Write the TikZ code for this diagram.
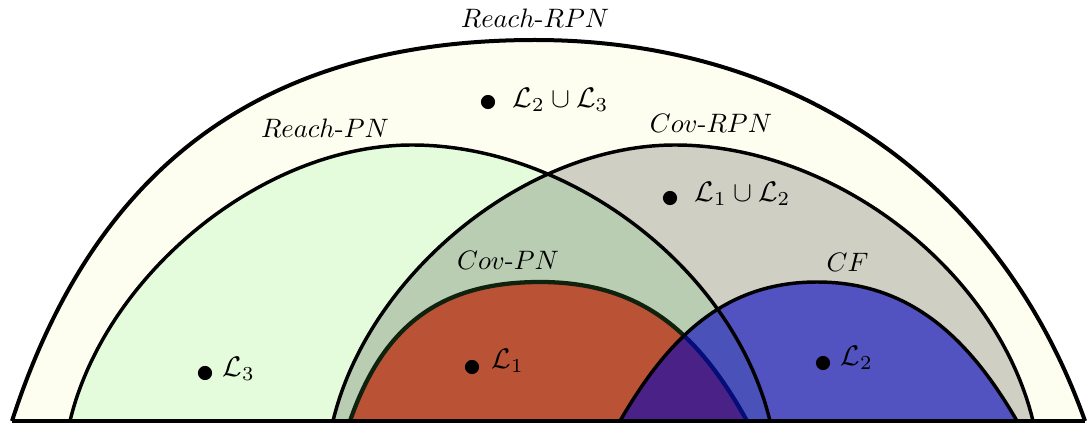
\documentclass[tikz,border=0pt]{standalone}
\definecolor{outerfill}{RGB}{254,254,240}
\definecolor{reachfill}{RGB}{228,252,220}
\definecolor{covpnfill}{RGB}{186,83,53}
\definecolor{covpnline}{RGB}{14,34,14}
\definecolor{cfblue}{RGB}{0,0,191}
\begin{document}
\begin{tikzpicture}[x=0.375pt,y=0.375pt,
  lbl/.style={inner sep=0pt, anchor=base},
  langlbl/.style={inner sep=0pt, anchor=base west, scale=1.06},
  dotnode/.style={circle, fill=black, inner sep=0pt, minimum size=5.3pt},
  setline/.style={line width=1.3pt, line join=round}]
\useasboundingbox (0,-1) rectangle (1087,421);
% fills
\fill[outerfill] (12,0) .. controls (92,247) and (255,381) .. (535,381) .. controls (795,381) and (1000,240) .. (1085,0) -- cycle;
\fill[reachfill] (70,0) .. controls (105,146) and (262,276) .. (412,276) .. controls (569,276) and (733,153) .. (770,0) -- cycle;
\fill[black, fill opacity=0.185] (333,0) .. controls (368,146) and (525,276) .. (675,276) .. controls (832,276) and (996,153) .. (1033,0) -- cycle;
\fill[covpnfill] (350,0) .. controls (383,95) and (440,139) .. (540,139) .. controls (640,139) and (697,90) .. (747,0) -- cycle;
\draw[covpnline, line width=1.6pt] (350,0) .. controls (383,95) and (440,139) .. (540,139) .. controls (640,139) and (697,90) .. (747,0);
\fill[cfblue, fill opacity=0.6] (620,0) .. controls (670,86.6) and (727,139) .. (817,139) .. controls (907,139) and (967,86.6) .. (1017,0) -- cycle;
% outlines
\draw[setline, line width=1.5pt] (12,0) .. controls (92,247) and (255,381) .. (535,381) .. controls (795,381) and (1000,240) .. (1085,0);
\draw[setline] (70,0) .. controls (105,146) and (262,276) .. (412,276) .. controls (569,276) and (733,153) .. (770,0);
\draw[setline] (333,0) .. controls (368,146) and (525,276) .. (675,276) .. controls (832,276) and (996,153) .. (1033,0);
\draw[setline] (620,0) .. controls (670,86.6) and (727,139) .. (817,139) .. controls (907,139) and (967,86.6) .. (1017,0);
\draw[line width=1.2pt] (12,0) -- (1085,0);
% set labels
\node[lbl] (lrrpn) at (535,393) {$Reach$-$RPN$};
\node[lbl] (lrpn) at (325,284) {$Reach$-$PN$};
\node[lbl] (lcrpn) at (711,288) {$Cov$-$RPN$};
\node[lbl] (lcpn) at (508,152) {$Cov$-$PN$};
\node[lbl] (lcf) at (847.5,150) {$CF$};
% languages
\node[dotnode] (d23) at (488,319) {};
\node[langlbl] (t23) at (512,313.5) {$\mathcal{L}_2\cup\mathcal{L}_3$};
\node[dotnode] (d12) at (670,223) {};
\node[langlbl] (t12) at (694,219.3) {$\mathcal{L}_1\cup\mathcal{L}_2$};
\node[dotnode] (d3) at (205,48) {};
\node[langlbl] (t3) at (222,44.3) {$\mathcal{L}_3$};
\node[dotnode] (d1) at (472,54) {};
\node[langlbl] (t1) at (491,53) {$\mathcal{L}_1$};
\node[dotnode] (d2) at (823,58) {};
\node[langlbl] (t2) at (840,56) {$\mathcal{L}_2$};
\end{tikzpicture}
\end{document}
